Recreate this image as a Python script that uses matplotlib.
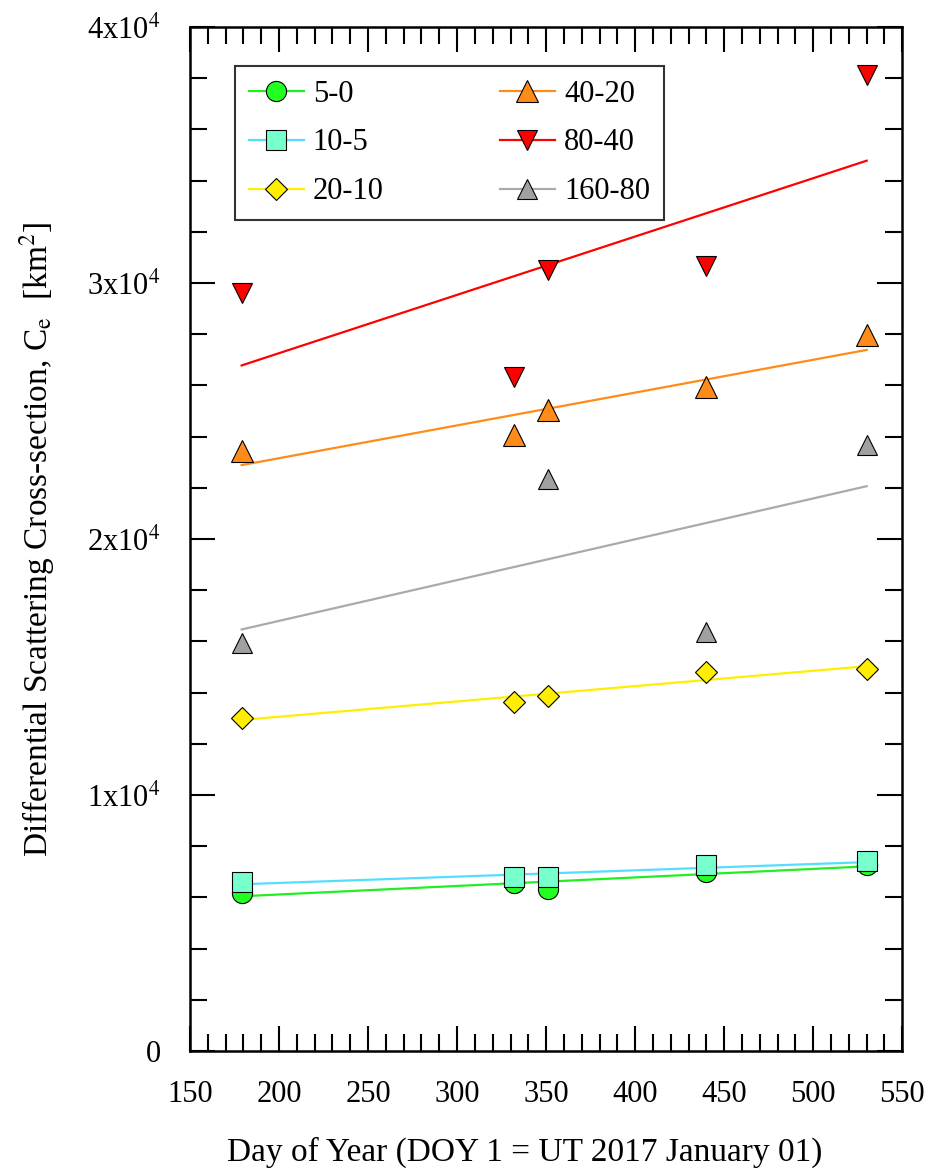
import numpy as np
import matplotlib
matplotlib.use('Agg')
from matplotlib import pyplot as plt
from matplotlib.lines import Line2D
from matplotlib.ticker import MultipleLocator, FixedLocator

plt.rcParams['font.family'] = ['Liberation Serif', 'DejaVu Serif']
plt.rcParams['mathtext.fontset'] = 'stix'

# day of year of each observation
doy = [179, 332, 351, 440, 530]
doy_160_80 = [179, 351, 440, 530]

# differential scattering cross-section per size bin [km^2]
ce_5_0 = [6160, 6575, 6315, 7005, 7280]
ce_10_5 = [6610, 6797, 6785, 7273, 7402]
ce_20_10 = [13015, 13633, 13867, 14805, 14935]
ce_40_20 = [23437, 24063, 25026, 25925, 27982]
ce_80_40 = [29621, 26320, 30520, 30664, 38113]
ce_160_80 = [15950, 22357, 16367, 23684]

labels = ['5-0', '10-5', '20-10', '40-20', '80-40', '160-80']
y_ticklabels = ['0', '1x10$^4$', '2x10$^4$', '3x10$^4$', '4x10$^4$']

series = [
    (doy, ce_5_0, 'o', '#22ff22', '#22ee22', 14.5),
    (doy, ce_10_5, 's', '#77ffcc', '#55ddff', 14.5),
    (doy, ce_20_10, 'D', '#ffee00', '#ffee00', 11.5),
    (doy, ce_40_20, '^', '#ff8c1a', '#ff8c1a', 16.5),
    (doy, ce_80_40, 'v', '#ff0000', '#ff0000', 14.5),
    (doy_160_80, ce_160_80, '^', '#a0a0a0', '#aaaaaa', 14.0),
]

fig = plt.figure(figsize=(9.35, 11.71), dpi=100)
ax = fig.add_axes([0.2032, 0.1025, 0.7618, 0.8745])

handles = []
for (x, y, m, fc, lc, ms), lab in zip(series, labels):
    x = np.array(x, dtype=float)
    y = np.array(y, dtype=float)
    # linear fit between first and last day
    k, b = np.polyfit(x, y, 1)
    xf = np.array([x.min(), x.max()])
    ax.plot(xf, k * xf + b, color=lc, lw=1.6, zorder=2)
    ax.plot(x, y, ls='none', marker=m, ms=ms, mfc=fc, mec='black', mew=0.8, zorder=3)
    handles.append(Line2D([], [], color=lc, lw=1.6, marker=m, ms=ms, mfc=fc,
                          mec='black', mew=0.8))

ax.set_xlim(150, 550)
ax.set_ylim(0, 40000)
ax.xaxis.set_major_locator(MultipleLocator(50))
ax.xaxis.set_minor_locator(MultipleLocator(10))
ax.yaxis.set_major_locator(FixedLocator([0, 10000, 20000, 30000, 40000]))
ax.yaxis.set_minor_locator(MultipleLocator(2000))
ax.set_yticklabels(y_ticklabels)

ax.tick_params(which='both', direction='in', top=True, right=True,
               labelsize=22, width=1.5, pad=21)
ax.tick_params(which='major', length=18)
ax.tick_params(which='minor', length=12)
for s in ax.spines.values():
    s.set_linewidth(1.8)

ax.set_xlabel('Day of Year (DOY 1 = UT 2017 January 01)', fontsize=24, labelpad=20)
ax.xaxis.label.set_x(0.47)
ax.set_ylabel(r'Differential Scattering Cross-section, C$_\mathrm{e}$  [km$^2$]',
              fontsize=24, labelpad=22)

leg = ax.legend(handles, labels, ncol=2, loc='upper left',
                bbox_to_anchor=(0.063, 0.962), fontsize=22, frameon=True,
                fancybox=False, edgecolor='black', handlelength=1.8,
                handletextpad=0.3, columnspacing=3.8, labelspacing=0.65,
                borderpad=0.45, borderaxespad=0)
leg.get_frame().set_linewidth(1.5)

plt.savefig('out.png', dpi=100)
